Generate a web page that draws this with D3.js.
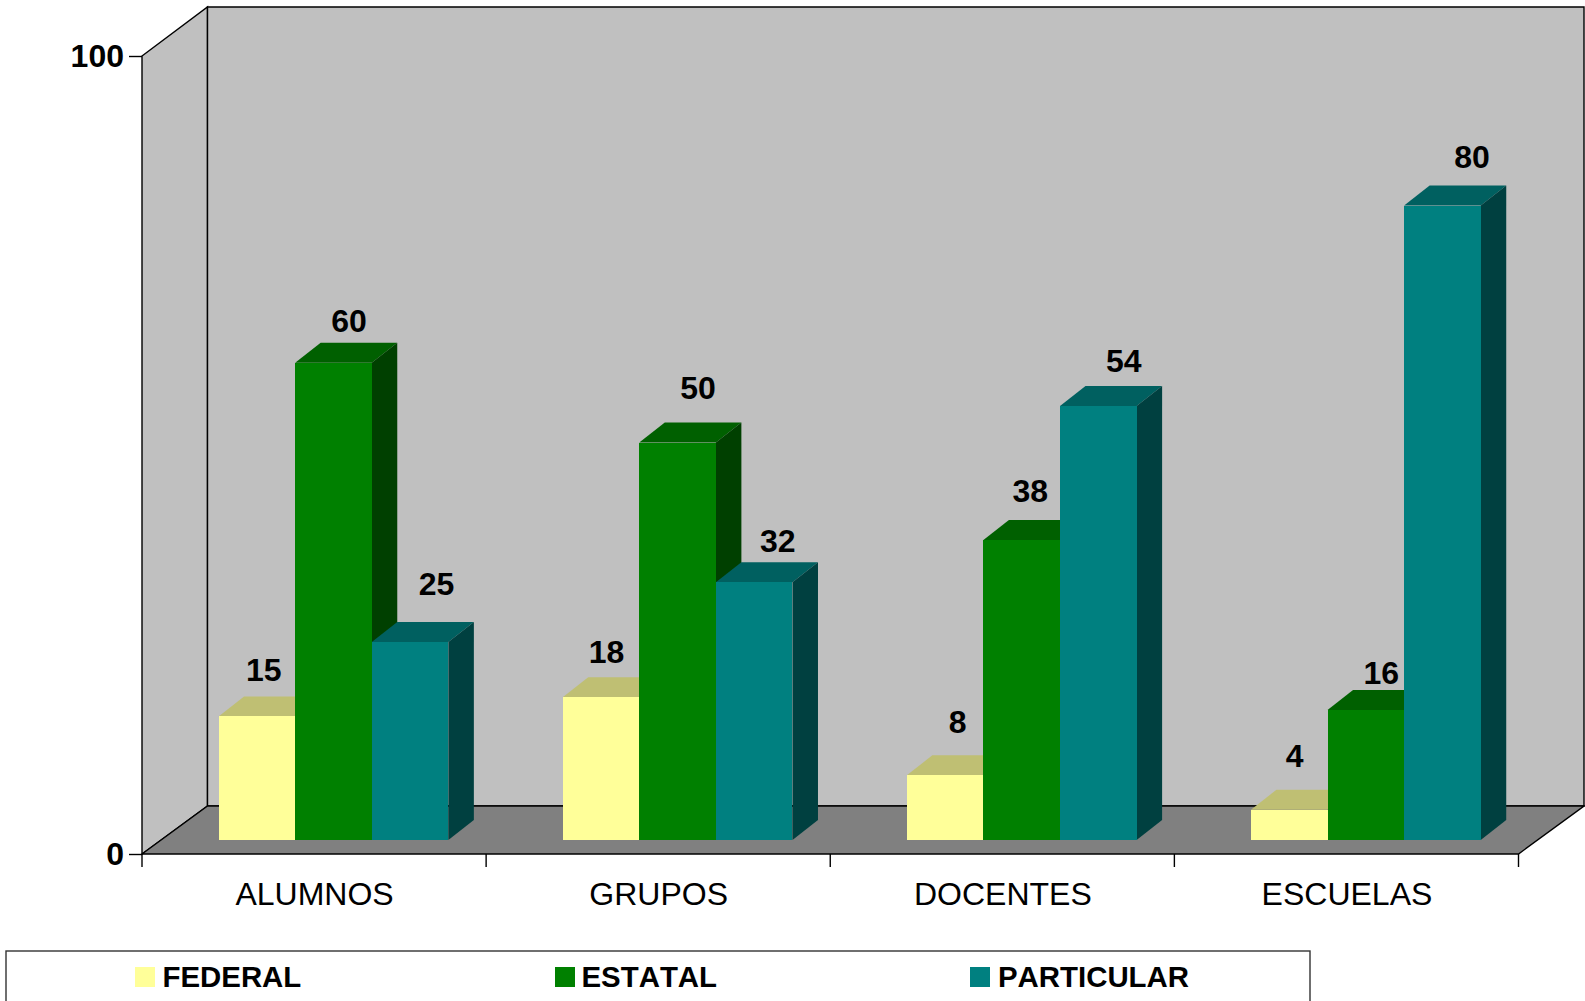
<!DOCTYPE html>
<html><head><meta charset="utf-8">
<script src="https://cdnjs.cloudflare.com/ajax/libs/d3/7.8.5/d3.min.js"></script>
<style>html,body{margin:0;padding:0;background:#fff;overflow:hidden}svg{display:block}text{font-family:"Liberation Sans",Arial,sans-serif;fill:#000}</style>
</head><body><svg id="c" width="1585" height="1001"></svg>
<script>
const categories = ["ALUMNOS","GRUPOS","DOCENTES","ESCUELAS"];
const seriesNames = ["FEDERAL","ESTATAL","PARTICULAR"];
const federal = [15.49,17.9,8.1,3.8];
const estatal = [59.8,49.8,37.6,16.3];
const particular = [24.8,32.3,54.4,79.5];
const yTicks = [0,100];

// layout
const X0=142,X1=1518.5,Y0=854,Y100=56,DX=65.5,DY=48;
const BAR_W=76.6,BAR_DX=25.5,BAR_DY=20,BAR_INSET_X=19.4,BAR_LIFT=14;
const faces=[{front:"#FFFF99",top:"#BFBF73",side:"#808060"},{front:"#008000",top:"#006000",side:"#004000"},{front:"#008080",top:"#006060",side:"#004040"}];
const labelNudge=[[[7,46,0],[15.5,42],[26.5,58]],[[5.5,45],[20.5,55],[23.5,41]],[[12.5,53],[8.5,49],[25.5,45]],[[5.5,54],[15.5,37],[29.5,49]]];
const legendPos=[[135,162.5],[555,581.5],[970,998]];

const svg=d3.select("#c");
const y=d3.scaleLinear().domain([0,100]).range([Y0,Y100]);
const x=d3.scaleBand().domain(categories).range([X0,X1]);
const xs=d3.scaleBand().domain(seriesNames).range([0,BAR_W*3]);
const values=[federal,estatal,particular];
const poly=(pts,fill,stroke)=>svg.append("polygon").attr("points",pts.map(p=>p.join(",")).join(" ")).attr("fill",fill).attr("stroke",stroke||"none").attr("stroke-width",stroke?1.4:0);

// walls and floor
poly([[X0,Y100],[X0+DX,Y100-DY-1],[X0+DX,Y0-DY],[X0,Y0]],"#C0C0C0","#000");
poly([[X0+DX,Y100-DY-1],[X1+DX,Y100-DY-1],[X1+DX,Y0-DY],[X0+DX,Y0-DY]],"#C0C0C0","#000");
poly([[X0,Y0],[X0+DX,Y0-DY],[X1+DX,Y0-DY],[X1,Y0]],"#808080","#000");

// axes
const ax=svg.append("g").attr("transform",`translate(${X0},0)`).call(d3.axisLeft(y).tickValues(yTicks).tickSize(13).tickPadding(5));
ax.select(".domain").remove();
ax.selectAll("line").attr("stroke","#000").attr("stroke-width",1.4);
ax.selectAll("text").attr("font-size",32).attr("font-weight","bold").attr("font-family",'"Liberation Sans"').attr("dy","0.33em");
const bx=svg.append("g").attr("transform",`translate(0,${Y0})`).call(d3.axisBottom(x).tickSize(0).tickPadding(28));
bx.select(".domain").remove();
bx.selectAll("text").attr("font-size",32).attr("font-family",'"Liberation Sans"').attr("dx",0.5);
svg.selectAll("line.xt").data(d3.range(categories.length+1)).enter().append("line").attr("class","xt")
 .attr("x1",i=>X0+i*x.bandwidth()).attr("x2",i=>X0+i*x.bandwidth()).attr("y1",Y0).attr("y2",Y0+13).attr("stroke","#000").attr("stroke-width",1.4);

// bars
const base=Y0-BAR_LIFT;
categories.forEach((c,ci)=>{
  const left=x(c)+(x.bandwidth()-BAR_W*3)/2+BAR_INSET_X;
  seriesNames.forEach((s,si)=>{
    const v=values[si][ci],bl=left+xs(s),br=bl+xs.bandwidth(),t=base-(Y0-y(v)),f=faces[si];
    poly([[bl,t],[bl+BAR_DX,t-BAR_DY],[br+BAR_DX,t-BAR_DY],[br,t]],f.top);
    poly([[br,t],[br+BAR_DX,t-BAR_DY],[br+BAR_DX,base-BAR_DY],[br,base]],f.side);
    poly([[bl,t],[br,t],[br,base],[bl,base]],f.front).attr("shape-rendering","crispEdges");
  });
});
// value labels
categories.forEach((c,ci)=>{
  const left=x(c)+(x.bandwidth()-BAR_W*3)/2+BAR_INSET_X;
  seriesNames.forEach((s,si)=>{
    const v=values[si][ci],t=base-(Y0-y(v)),n=labelNudge[ci][si];
    svg.append("text").attr("x",left+xs(s)+xs.bandwidth()/2+n[0]).attr("y",t-n[1]+11).attr("text-anchor","middle")
      .attr("font-size",32).attr("font-weight","bold").text(d3.format(".0f")(v));
  });
});
// legend
svg.append("rect").attr("x",6).attr("y",951).attr("width",1304).attr("height",70).attr("fill","#fff").attr("stroke","#333").attr("stroke-width",1.4);
seriesNames.forEach((s,i)=>{
  svg.append("rect").attr("x",legendPos[i][0]).attr("y",967).attr("width",20).attr("height",20).attr("fill",faces[i].front);
  svg.append("text").attr("x",legendPos[i][1]).attr("y",986.5).attr("font-size",29.4).attr("font-weight","bold").style("font-kerning","none").text(s);
});
</script></body></html>
